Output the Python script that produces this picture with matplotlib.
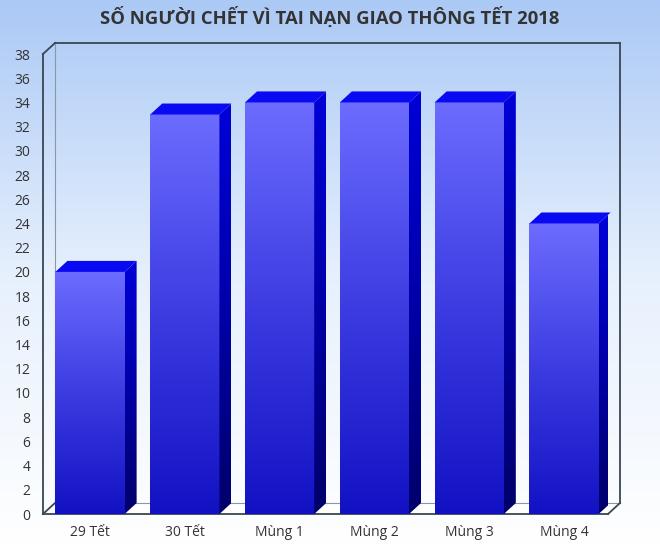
import numpy as np
import matplotlib
matplotlib.use("Agg")
import matplotlib.pyplot as plt
from matplotlib.colors import LinearSegmentedColormap
from matplotlib.patches import Polygon

plt.rcParams['font.family'] = ['Open Sans', 'DejaVu Sans']

# du lieu
categories = ['29 Tết', '30 Tết', 'Mùng 1', 'Mùng 2', 'Mùng 3', 'Mùng 4']
deaths = [20, 33, 34, 34, 34, 24]
y_ticks = list(range(0, 39, 2))
title = 'SỐ NGƯỜI CHẾT VÌ TAI NẠN GIAO THÔNG TẾT 2018'

W, H = 660, 547
fig = plt.figure(figsize=(W / 100, H / 100), dpi=100)

# nen gradient
bg = fig.add_axes([0, 0, 1, 1], zorder=-10)
bg_cmap = LinearSegmentedColormap.from_list('bg', ['#ffffff', '#e6f0fd', '#abc9f5'])
bg.imshow(np.linspace(0, 1, 256).reshape(-1, 1), cmap=bg_cmap, aspect='auto',
          origin='lower', extent=[0, 1, 0, 1])
bg.set_axis_off()

# truc chinh (mat truoc)
left, right, bottom, top = 43, 608, 514, 54
ax = fig.add_axes([left / W, (H - bottom) / H, (right - left) / W, (bottom - top) / H])
ax.patch.set_alpha(0)
xmin, xmax = -0.496, 5.464
ymin, ymax = 0, 38
ax.set_xlim(xmin, xmax)
ax.set_ylim(ymin, ymax)

# do sau 3D theo pixel -> don vi du lieu
px_x = (right - left) / (xmax - xmin)
px_y = (bottom - top) / (ymax - ymin)
dx = 12 / px_x
dy = 11 / px_y

frame = '#3b4654'
# san trang
ax.add_patch(Polygon([(xmin, 0), (xmax, 0), (xmax + dx, dy), (xmin + dx, dy)],
                     closed=True, facecolor='white', edgecolor='none', zorder=1, clip_on=False))
# khung
lines = [
    ([xmin, xmin], [0, ymax]),
    ([xmin, xmin + dx], [ymax, ymax + dy]),
    ([xmin + dx, xmax + dx], [ymax + dy, ymax + dy]),
    ([xmax + dx, xmax + dx], [ymax + dy, dy]),
    ([xmin, xmax], [0, 0]),
    ([xmax, xmax + dx], [0, dy]),
    ([xmin, xmin + dx], [0, dy]),
]
for xs, ys in lines:
    ax.plot(xs, ys, color=frame, lw=1.3, clip_on=False, zorder=2, solid_capstyle='projecting')
ax.plot([xmin + dx, xmin + dx], [dy, ymax + dy], color='#8a97a8', lw=0.8, clip_on=False, zorder=1.5)
ax.plot([xmin + dx, xmax + dx], [dy, dy], color='#8a97a8', lw=0.8, clip_on=False, zorder=1.5)

# cot 3D
front_cmap = LinearSegmentedColormap.from_list('front', ['#1212c4', '#3c3ce2', '#6c6cff'])
side_cmap = LinearSegmentedColormap.from_list('side', ['#00006a', '#0000a8', '#0000d8'])
grad = np.linspace(0, 1, 256).reshape(-1, 1)
bw = 0.73
for i, v in enumerate(deaths):
    x0, x1 = i - bw / 2, i + bw / 2
    im = ax.imshow(grad, cmap=front_cmap, aspect='auto', origin='lower',
                   extent=[x0, x1, 0, v], zorder=3, clip_on=False)
    side = Polygon([(x1, 0), (x1 + dx, dy), (x1 + dx, v + dy), (x1, v)], closed=True,
                   facecolor='none', edgecolor='none', transform=ax.transData)
    ax.add_patch(side)
    im2 = ax.imshow(grad, cmap=side_cmap, aspect='auto', origin='lower',
                    extent=[x1, x1 + dx, 0, v + dy], zorder=3)
    im2.set_clip_path(side)
    ax.add_patch(Polygon([(x0, v), (x1, v), (x1 + dx, v + dy), (x0 + dx, v + dy)], closed=True,
                         facecolor='#0a0af2', edgecolor='none', zorder=3.5, clip_on=False))

ax.set_xlim(xmin, xmax)
ax.set_ylim(ymin, ymax)
ax.set_yticks(y_ticks)
ax.set_yticklabels([str(t) for t in y_ticks])
ax.set_xticks(range(len(categories)))
ax.set_xticklabels(categories)
ax.tick_params(axis='both', length=0, labelsize=10, labelcolor='#333333')
ax.tick_params(axis='y', pad=9)
ax.tick_params(axis='x', pad=8)
for s in ax.spines.values():
    s.set_visible(False)

fig.text(0.5, 1 - 17 / H, title, ha='center', va='center', fontsize=13.3,
         fontweight='bold', color='#333333')

fig.savefig('out.png', dpi=100)
